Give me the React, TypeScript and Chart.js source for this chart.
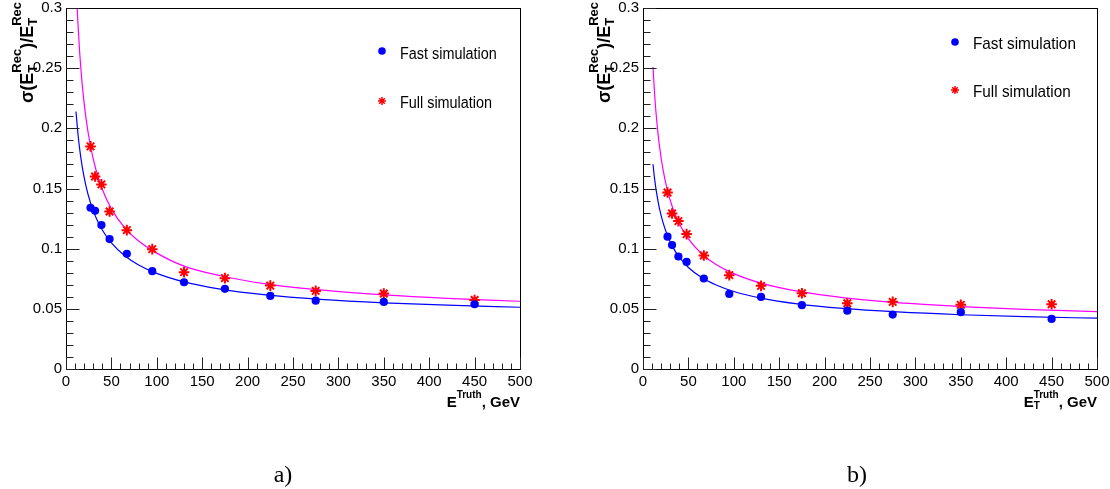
import React, { useEffect, useRef } from "react";
import { Chart, registerables } from "chart.js";

Chart.register(...registerables);

// ---------- data ----------
const ENERGY = [27, 32, 39, 48, 67, 95, 130, 175, 225, 275, 350, 450];

const A_FAST = [0.134, 0.1315, 0.1196, 0.108, 0.0957, 0.0813, 0.0721, 0.0666, 0.0607, 0.0568, 0.0557, 0.0538];
const A_FULL = [0.185, 0.16, 0.1534, 0.1309, 0.1154, 0.0996, 0.0805, 0.0755, 0.0693, 0.0649, 0.0627, 0.0574];

const B_FAST = [0.11, 0.103, 0.0935, 0.089, 0.0752, 0.0624, 0.0599, 0.053, 0.0485, 0.0452, 0.0472, 0.0416];
const B_FULL = [0.1467, 0.1292, 0.1229, 0.1121, 0.0943, 0.078, 0.0691, 0.063, 0.0547, 0.0558, 0.0533, 0.0538];

const FIT_E = [11, 13, 15, 18, 22, 27, 33, 40, 50, 65, 80, 100, 130, 170, 220, 280, 350, 420, 500];
const A_FULL_FIT_E = [12, 13, 15, 18, 22, 27, 33, 40, 50, 65, 80, 100, 130, 170, 220, 280, 350, 420, 500];

const A_FAST_FIT = [0.214, 0.1967, 0.1831, 0.1675, 0.152, 0.1381, 0.1259, 0.1155, 0.1048, 0.0939, 0.0865, 0.0795, 0.0724, 0.0664, 0.0616, 0.0579, 0.055, 0.053, 0.0513];
const A_FULL_FIT = [0.305, 0.2893, 0.2637, 0.2353, 0.2085, 0.1852, 0.1656, 0.1494, 0.1331, 0.1171, 0.1063, 0.0963, 0.0855, 0.0775, 0.0708, 0.0657, 0.0616, 0.0587, 0.0563];

const B_FAST_FIT = [0.1702, 0.1567, 0.1461, 0.1339, 0.1218, 0.1107, 0.1011, 0.0929, 0.0844, 0.0758, 0.07, 0.0644, 0.0589, 0.0541, 0.0503, 0.0474, 0.0451, 0.0435, 0.0422];
const B_FULL_FIT = [0.251, 0.226, 0.2072, 0.186, 0.1659, 0.1482, 0.1332, 0.1207, 0.1081, 0.0956, 0.0871, 0.0793, 0.0714, 0.0647, 0.0593, 0.0551, 0.0519, 0.0496, 0.0477];

const LEGEND_LABELS = ["Fast simulation", "Full simulation"];
const PANEL_LABELS = ["a)", "b)"];

const X_MIN = 0, X_MAX = 500, X_MAJOR = 50, X_MINOR = 10;
const Y_MIN = 0, Y_MAX = 0.3, Y_MAJOR = 0.05, Y_MINOR = 0.01;

const SANS = '"Liberation Sans", Arial, Helvetica, sans-serif';
const SERIF = '"Liberation Serif", "Times New Roman", serif';

type Seg = { t: string } | { sub?: string; sup?: string };

function segWidth(ctx: CanvasRenderingContext2D, s: Seg, main: string, small: string) {
  if ("t" in s) { ctx.font = main; return ctx.measureText(s.t).width; }
  ctx.font = small;
  return Math.max(s.sub ? ctx.measureText(s.sub).width : 0, s.sup ? ctx.measureText(s.sup).width : 0);
}

function drawRich(ctx: CanvasRenderingContext2D, segs: Seg[], x: number, y: number, main: string, small: string, rise: number, drop: number) {
  let cx = x;
  ctx.textAlign = "left";
  ctx.textBaseline = "alphabetic";
  for (const s of segs) {
    const w = segWidth(ctx, s, main, small);
    if ("t" in s) { ctx.font = main; ctx.fillText(s.t, cx, y); }
    else {
      ctx.font = small;
      if (s.sup) ctx.fillText(s.sup, cx, y - rise);
      if (s.sub) ctx.fillText(s.sub, cx, y + drop);
    }
    cx += w;
  }
  return cx - x;
}

function richWidth(ctx: CanvasRenderingContext2D, segs: Seg[], main: string, small: string) {
  return segs.reduce((a, s) => a + segWidth(ctx, s, main, small), 0);
}

function drawStar(ctx: CanvasRenderingContext2D, x: number, y: number, r: number) {
  const d = r * Math.SQRT1_2;
  ctx.beginPath();
  ctx.moveTo(x - r, y); ctx.lineTo(x + r, y);
  ctx.moveTo(x, y - r); ctx.lineTo(x, y + r);
  ctx.moveTo(x - d, y - d); ctx.lineTo(x + d, y + d);
  ctx.moveTo(x - d, y + d); ctx.lineTo(x + d, y - d);
  ctx.stroke();
}

const rootPlugin = {
  id: "rootDecor",
  afterDraw(chart: any, _args: any, o: any) {
    const { ctx, chartArea: a, scales } = chart;
    const xs = scales.x, ys = scales.y;
    ctx.save();
    const L = Math.round(a.left) + 0.5, R = Math.round(a.right) + 0.5;
    const T = Math.round(a.top) + 0.5, B = Math.round(a.bottom) + 0.5;
    ctx.strokeStyle = "#000";
    ctx.lineWidth = 1;
    ctx.strokeRect(L, T, R - L, B - T);
    ctx.strokeStyle = "#222";
    // x ticks (inward)
    ctx.beginPath();
    for (let i = 0; X_MIN + i * X_MINOR <= X_MAX + 1e-9; i++) {
      const v = X_MIN + i * X_MINOR;
      const px = Math.round(xs.getPixelForValue(v)) + 0.5;
      const len = i % (X_MAJOR / X_MINOR) === 0 ? 12 : 6;
      ctx.moveTo(px, B); ctx.lineTo(px, B - len);
    }
    // y ticks (inward)
    for (let i = 0; Y_MIN + i * Y_MINOR <= Y_MAX + 1e-9; i++) {
      const v = Y_MIN + i * Y_MINOR;
      const py = Math.round(ys.getPixelForValue(v)) + 0.5;
      const len = i % Math.round(Y_MAJOR / Y_MINOR) === 0 ? 13 : 7;
      ctx.moveTo(L, py); ctx.lineTo(L + len, py);
    }
    ctx.stroke();

    ctx.fillStyle = "#000";
    // y title (rotated)
    const yMain = `bold 18px ${SANS}`, ySmall = `bold 13px ${SANS}`;
    const ySegs: Seg[] = [{ t: "σ(E" }, { sub: "T", sup: "Rec" }, { t: ")/E" }, { sub: "T", sup: "Rec" }];
    const yw = richWidth(ctx, ySegs, yMain, ySmall);
    ctx.save();
    ctx.translate(a.left - 33, a.top - 6 + yw);
    ctx.rotate(-Math.PI / 2);
    drawRich(ctx, ySegs, 0, 0, yMain, ySmall, 12.5, 4);
    ctx.restore();

    // x title
    const xMain = `bold 15px ${SANS}`, xSmall = `bold 10px ${SANS}`;
    const xSegs: Seg[] = o.xSub
      ? [{ t: "E" }, { sub: "T", sup: "Truth" }, { t: ", GeV" }]
      : [{ t: "E" }, { sup: "Truth" }, { t: ", GeV" }];
    const xw = richWidth(ctx, xSegs, xMain, xSmall);
    drawRich(ctx, xSegs, a.right - xw, a.bottom + 38, xMain, xSmall, 9, 2);

    // legend
    const lg = o.legend;
    ctx.fillStyle = "#0000ff";
    ctx.beginPath();
    ctx.arc(lg.x, lg.y1, 3.8, 0, Math.PI * 2);
    ctx.fill();
    ctx.strokeStyle = "#ff0000";
    ctx.lineWidth = 1.5;
    drawStar(ctx, lg.x, lg.y2, 4);
    ctx.fillStyle = "#000";
    ctx.font = `${lg.size}px ${SANS}`;
    ctx.textAlign = "left";
    ctx.textBaseline = "alphabetic";
    [[LEGEND_LABELS[0], lg.b1], [LEGEND_LABELS[1], lg.b2]].forEach(([txt, by]: any) => {
      ctx.save();
      ctx.translate(lg.tx, by);
      ctx.scale(0.9, 1);
      ctx.fillText(txt, 0, 0);
      ctx.restore();
    });

    // panel label
    ctx.font = `24px ${SERIF}`;
    ctx.textAlign = "center";
    ctx.fillText(o.label, o.labelX, 481.5);
    ctx.restore();
  },
};

type PanelProps = {
  left: number;
  fast: number[];
  full: number[];
  fastFitE: number[];
  fastFit: number[];
  fullFitE: number[];
  fullFit: number[];
  yWidth: number;
  padRight: number;
  xSub: boolean;
  legend: any;
  label: string;
  labelX: number;
};

function Panel(p: PanelProps) {
  const ref = useRef<HTMLCanvasElement | null>(null);
  useEffect(() => {
    if (!ref.current) return;
    const chart = new Chart(ref.current, {
      type: "scatter",
      data: {
        datasets: [
          {
            label: LEGEND_LABELS[0],
            data: ENERGY.map((x, i) => ({ x, y: p.fast[i] })),
            pointStyle: "circle",
            pointRadius: 4.1,
            backgroundColor: "#0000ff",
            borderColor: "#0000ff",
            borderWidth: 0,
            showLine: false,
          },
          {
            label: LEGEND_LABELS[1],
            data: ENERGY.map((x, i) => ({ x, y: p.full[i] })),
            pointStyle: "star",
            pointRadius: 5.3,
            backgroundColor: "#ff0000",
            borderColor: "#ff0000",
            borderWidth: 2,
            showLine: false,
          },
          {
            label: "fast fit",
            data: p.fastFitE.map((x, i) => ({ x, y: p.fastFit[i] })),
            showLine: true,
            borderColor: "#0000ff",
            borderWidth: 1.2,
            pointRadius: 0,
            cubicInterpolationMode: "monotone",
            fill: false,
          },
          {
            label: "full fit",
            data: p.fullFitE.map((x, i) => ({ x, y: p.fullFit[i] })),
            showLine: true,
            borderColor: "#ff00ff",
            borderWidth: 1.2,
            pointRadius: 0,
            cubicInterpolationMode: "monotone",
            fill: false,
          },
        ],
      } as any,
      options: {
        responsive: false,
        animation: false,
        devicePixelRatio: 1,
        events: [],
        layout: { padding: { left: 0, right: p.padRight, top: 8, bottom: 0 } },
        plugins: {
          legend: { display: false },
          tooltip: { enabled: false },
          rootDecor: { xSub: p.xSub, legend: p.legend, label: p.label, labelX: p.labelX },
        } as any,
        scales: {
          x: {
            type: "linear",
            min: X_MIN,
            max: X_MAX,
            grid: { display: false, drawTicks: false },
            border: { display: false },
            ticks: {
              stepSize: X_MAJOR,
              color: "#000",
              font: { family: SANS, size: 15 },
              padding: 4,
              maxRotation: 0,
              autoSkip: false,
            },
            afterFit: (s: any) => { s.height = 120; s.paddingLeft = 0; s.paddingRight = 0; },
          },
          y: {
            type: "linear",
            min: Y_MIN,
            max: Y_MAX,
            grid: { display: false, drawTicks: false },
            border: { display: false },
            ticks: {
              stepSize: Y_MAJOR,
              color: "#000",
              font: { family: SANS, size: 15 },
              padding: 4,
              callback: (v: any) => String(Number(Number(v).toFixed(2))),
            },
            afterFit: (s: any) => { s.width = p.yWidth; s.paddingTop = 0; s.paddingBottom = 0; },
          },
        } as any,
      },
      plugins: [rootPlugin as any],
    });
    return () => chart.destroy();
  }, []);
  return (
    <canvas
      ref={ref}
      width={555}
      height={489}
      style={{ position: "absolute", left: p.left, top: 0, width: 555, height: 489 }}
    />
  );
}

export default function App() {
  return (
    <div style={{ position: "absolute", left: 0, top: 0, width: 1110, height: 489, background: "#fff", overflow: "hidden" }}>
      <Panel
        left={0}
        fast={A_FAST}
        full={A_FULL}
        fastFitE={FIT_E}
        fastFit={A_FAST_FIT}
        fullFitE={A_FULL_FIT_E}
        fullFit={A_FULL_FIT}
        yWidth={66}
        padRight={35}
        xSub={false}
        legend={{ x: 382, y1: 51, y2: 101, tx: 400, b1: 58.5, b2: 107.5, size: 16 }}
        label={PANEL_LABELS[0]}
        labelX={283}
      />
      <Panel
        left={555}
        fast={B_FAST}
        full={B_FULL}
        fastFitE={FIT_E}
        fastFit={B_FAST_FIT}
        fullFitE={FIT_E}
        fullFit={B_FULL_FIT}
        yWidth={88}
        padRight={13}
        xSub={true}
        legend={{ x: 400, y1: 42, y2: 90, tx: 418, b1: 48.5, b2: 96.5, size: 17 }}
        label={PANEL_LABELS[1]}
        labelX={302}
      />
    </div>
  );
}
